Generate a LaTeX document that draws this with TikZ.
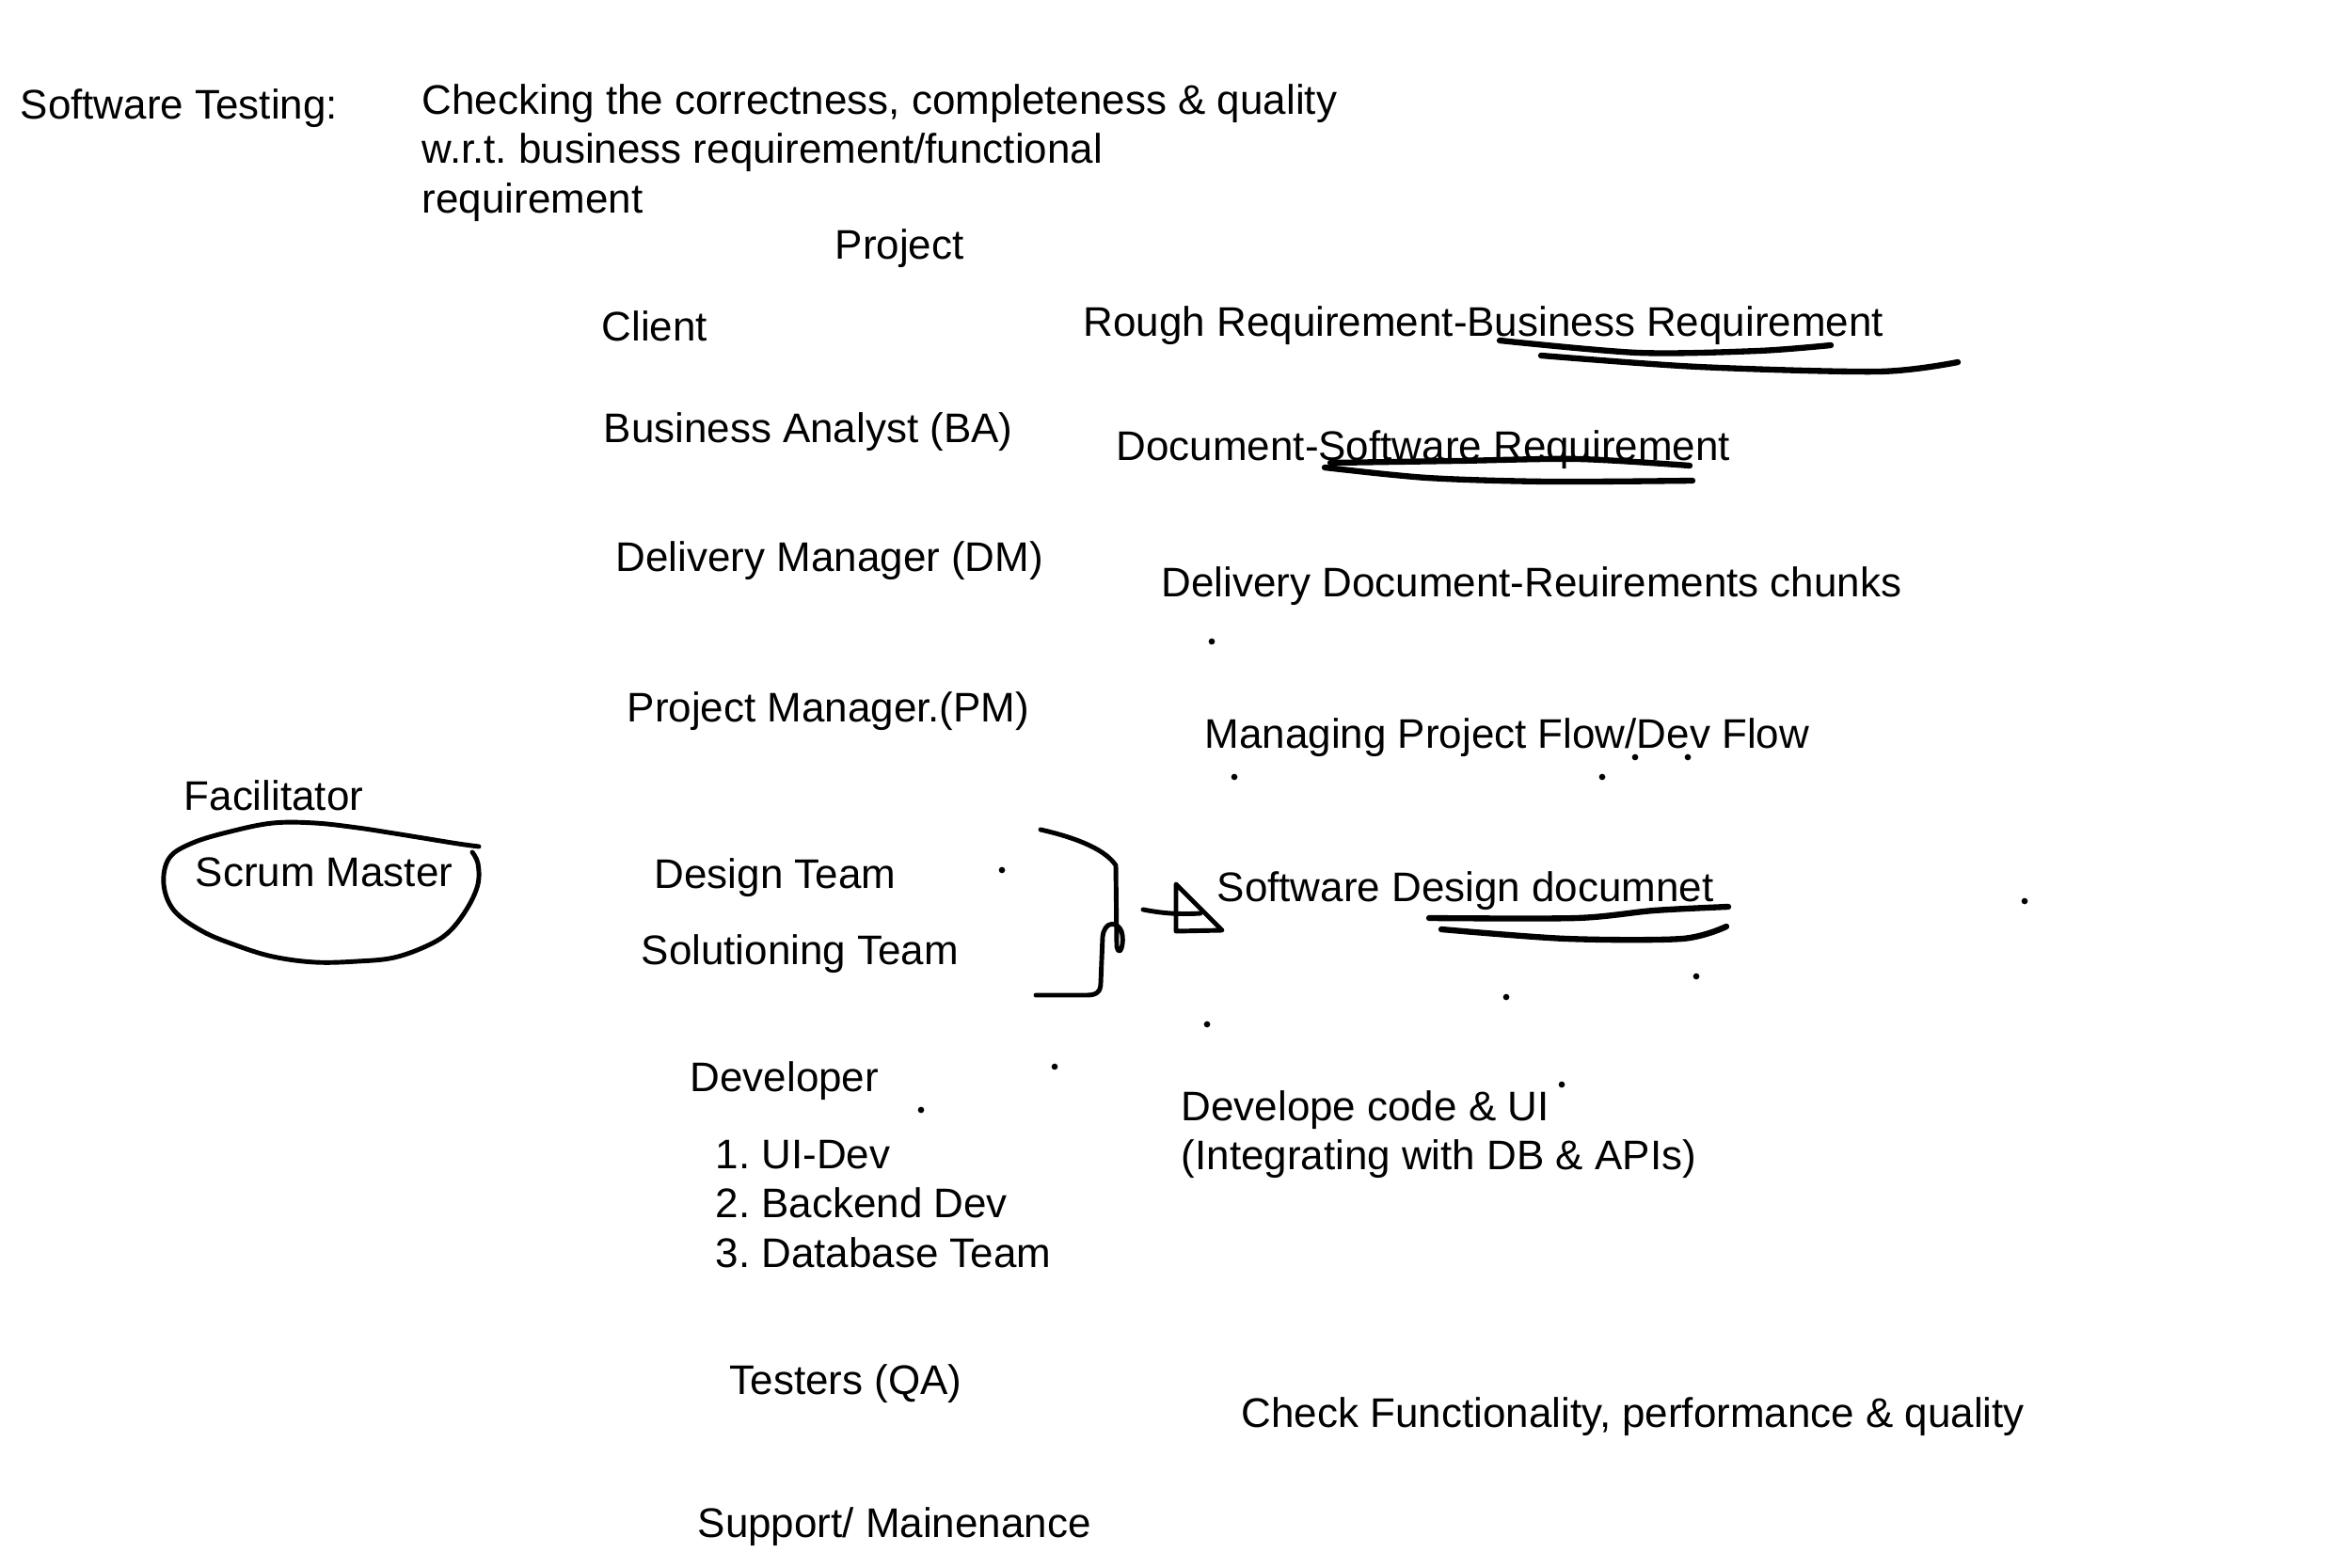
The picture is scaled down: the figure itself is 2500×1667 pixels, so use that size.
\documentclass[tikz,border=0pt]{standalone}
\usepackage{fontspec}
\setmainfont{Liberation Sans}
\usetikzlibrary{positioning}
\frenchspacing

\begin{document}
\begin{tikzpicture}[x=0.01cm,y=-0.01cm,font=\fontsize{12.5}{15}\selectfont]
	\tikzstyle{note}=[anchor=mid west,inner sep=0pt]
	\tikzstyle{pen}=[line width=1.4pt,line cap=round,line join=round]
	\tikzstyle{underline}=[line width=1.8pt,line cap=round]
	\tikzstyle{speck}=[circle,fill=black,inner sep=0pt,minimum size=1.9pt]

	\useasboundingbox (0,0) rectangle (2500,1667);

	% heading
	\node[note] (sw) at (21,117) {Software Testing:};
	\node[note] (def1) at (448,112) {Checking the correctness, completeness \& quality};
	\node[note] (def2) at (448,164) {w.r.t. business requirement/functional};
	\node[note] (def3) at (448,217) {requirement};
	\node[note] (project) at (887,266) {Project};

	% roles
	\node[note] (client) at (639,353) {Client};
	\node[note] (ba) at (641,461) {Business Analyst (BA)};
	\node[note] (dm) at (654,598) {Delivery Manager (DM)};
	\node[note] (pm) at (666,758) {Project Manager.(PM)};
	\node[note] (design) at (695,935) {Design Team};
	\node[note] (solution) at (681,1016) {Solutioning Team};
	\node[note] (dev) at (733,1151) {Developer};
	\node[note] (ui) at (760,1233) {1. UI-Dev};
	\node[note] (backend) at (760,1285) {2. Backend Dev};
	\node[note] (db) at (760,1338) {3. Database Team};
	\node[note] (qa) at (775,1473) {Testers (QA)};
	\node[note] (support) at (741,1625) {Support/ Mainenance};

	% what each role gives
	\node[note] (rough) at (1151,348) {Rough Requirement-Business Requirement};
	\node[note] (srs) at (1186,480) {Document-Software Requirement};
	\node[note] (chunks) at (1234,625) {Delivery Document-Reuirements chunks};
	\node[note] (flow) at (1280,786) {Managing Project Flow/Dev Flow};
	\node[note] (sdd) at (1293,949) {Software Design documnet};
	\node[note] (code) at (1255,1182) {Develope code \& UI};
	\node[note] (integ) at (1255,1234) {(Integrating with DB \& APIs)};
	\node[note] (check) at (1319,1508) {Check Functionality, performance \& quality};

	% scrum master
	\node[note] (facil) at (195,852) {Facilitator};
	\node[note] (sm) at (207,933) {Scrum Master};
	\draw[pen] plot[smooth,tension=0.6] coordinates {(509,900) (487,897) (450,891) (419,886) (380,880) (335,875) (290,875) (245,884) (205,896) (180,912) (174,940) (185,968) (215,990) (251,1005) (290,1017) (335,1023) (380,1022) (419,1018) (455,1005) (478,990) (497,965) (508,940) (508,918) (502,906)};

	% underlines
	\draw[underline] plot[smooth] coordinates {(1594,362) (1741,375) (1869,373) (1946,367)};
	\draw[underline] plot[smooth] coordinates {(1638,378) (1805,390) (1997,395) (2081,385)};
	\draw[underline] plot[smooth] coordinates {(1414,492) (1549,490) (1677,488) (1796,495)};
	\draw[underline] plot[smooth] coordinates {(1408,497) (1517,508) (1645,512) (1799,511)};
	\draw[underline] plot[smooth] coordinates {(1519,976) (1676,976) (1758,968) (1837,964)};
	\draw[underline] plot[smooth] coordinates {(1532,988) (1665,998) (1788,998) (1835,985)};

	% bracket and triangle
	\draw[pen] (1106,882) .. controls (1150,892) and (1176,905) .. (1186,920) -- (1187,1006)
		.. controls (1190,1020) and (1196,1002) .. (1192,990)
		.. controls (1188,980) and (1174,978) .. (1172,996) -- (1170,1045)
		.. controls (1170,1055) and (1165,1058) .. (1155,1058) -- (1101,1058);
	\draw[pen] (1215,967) .. controls (1240,972) and (1260,972) .. (1276,971);
	\draw[pen] (1250,940) -- (1250,990) -- (1299,989) -- cycle;

	% stray dots
	\node[speck] (d1) at (1288,682) {};
	\node[speck] (d2) at (1312,826) {};
	\node[speck] (d3) at (1703,826) {};
	\node[speck] (d4) at (1738,805) {};
	\node[speck] (d5) at (1794,805) {};
	\node[speck] (d6) at (1065,925) {};
	\node[speck] (d7) at (2152,958) {};
	\node[speck] (d8) at (1803,1038) {};
	\node[speck] (d9) at (1601,1060) {};
	\node[speck] (d10) at (1283,1089) {};
	\node[speck] (d11) at (1121,1134) {};
	\node[speck] (d12) at (979,1180) {};
	\node[speck] (d13) at (1660,1153) {};
\end{tikzpicture}
\end{document}
